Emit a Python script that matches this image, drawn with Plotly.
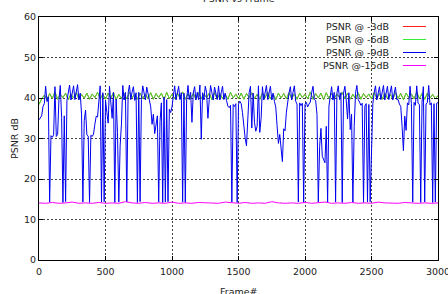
import plotly.graph_objects as go

# ---------------- data ----------------
step_blue = 10
psnr_9db = [
    34.6, 35.2, 35.6, 37.9, 38.6, 42.9, 39.1, 40.3, 14.3, 30.7, 30.3, 30.9, 42.8, 30.5, 31.0,
    39.6, 43.1, 35.2, 14.2, 35.6, 14.4, 39.4, 41.4, 43.2, 39.5, 41.5, 43.0, 39.6, 41.3, 43.3,
    39.5, 41.2, 36.0, 14.3, 34.4, 37.0, 30.9, 30.6, 14.2, 30.8, 30.5, 31.1, 33.5, 35.5, 35.3,
    39.6, 43.0, 14.3, 41.3, 14.4, 39.5, 36.5, 33.8, 42.9, 39.6, 35.0, 41.4, 14.2, 39.7, 31.5,
    14.3, 28.2, 33.6, 43.1, 39.5, 41.4, 14.3, 41.2, 43.2, 39.6, 41.5, 42.8, 39.4, 41.3, 14.2,
    41.4, 14.4, 39.6, 43.0, 41.2, 39.5, 42.7, 41.3, 39.5, 37.8, 33.5, 36.0, 31.2, 34.0, 35.6,
    14.3, 34.2, 38.8, 14.2, 40.2, 14.3, 39.6, 14.4, 37.2, 36.4, 37.8, 39.9, 43.0, 39.5, 41.4,
    42.9, 39.6, 41.3, 14.3, 41.2, 14.2, 39.5, 43.1, 39.6, 41.4, 34.0, 41.2, 42.8, 39.5, 41.4,
    39.6, 43.2, 29.8, 41.3, 39.5, 42.9, 41.4, 35.0, 39.6, 43.1, 41.3, 39.5, 42.7, 41.4, 39.6,
    43.0, 39.5, 41.3, 42.9, 39.6, 41.2, 39.4, 38.0, 37.6, 38.2, 14.3, 38.4, 37.9, 38.6, 14.2,
    38.5, 39.2, 38.6, 36.4, 33.0, 30.1, 28.2, 36.5, 41.3, 42.9, 32.6, 41.2, 34.0, 31.8, 33.0,
    43.0, 31.5, 35.0, 42.8, 39.5, 41.4, 43.1, 39.6, 41.3, 42.9, 39.5, 41.2, 39.2, 37.8, 33.2,
    28.8, 31.0, 26.9, 24.3, 32.4, 31.9, 36.5, 39.6, 41.3, 42.8, 39.5, 41.4, 43.0, 39.2, 38.5,
    14.3, 38.8, 38.1, 38.7, 14.2, 38.4, 38.9, 37.8, 38.5, 39.0, 41.3, 42.9, 39.6, 39.4, 36.0,
    14.3, 28.0, 32.5, 25.6, 24.6, 24.0, 33.0, 14.2, 38.0, 41.3, 42.8, 39.5, 41.4, 14.3, 41.2,
    43.0, 39.6, 41.3, 14.2, 41.2, 42.9, 39.5, 34.8, 41.3, 32.2, 36.0, 14.3, 33.0, 41.2, 43.1,
    39.6, 39.0, 38.2, 38.7, 14.2, 38.0, 38.6, 14.3, 38.4, 14.4, 30.0, 38.6, 41.3, 43.0, 39.5,
    41.4, 42.8, 39.6, 41.3, 43.1, 39.5, 41.2, 42.9, 39.6, 41.4, 43.0, 39.5, 41.3, 42.7, 39.6,
    39.6, 38.5, 37.9, 33.0, 27.0, 35.5, 32.0, 38.8, 38.3, 42.9, 38.6, 14.3, 38.9, 38.2, 43.0,
    38.7, 38.4, 14.2, 38.9, 42.8, 14.3, 38.5, 38.9, 43.1, 38.3, 38.8, 14.2, 38.6, 14.3, 38.7,
    38.9,
]

step_green = 20
psnr_6db = [
    38.4, 39.8, 40.7, 39.6, 41.1, 39.9, 41.5, 39.7, 40.9, 40.1,
    41.2, 39.6, 41.0, 40.0, 41.3, 39.8, 40.9, 39.9, 41.2, 39.7,
    41.0, 40.1, 41.4, 39.8, 40.9, 39.7, 41.2, 40.0, 41.3, 39.6,
    40.9, 39.9, 41.1, 39.8, 41.4, 40.1, 41.0, 39.7, 41.2, 39.9,
    41.0, 39.8, 41.3, 39.7, 41.1, 40.1, 41.2, 39.6, 41.4, 39.9,
    40.9, 39.8, 41.2, 40.0, 41.5, 39.7, 41.0, 39.9, 41.1, 39.7,
    41.3, 39.9, 41.0, 40.1, 41.2, 39.6, 41.3, 39.8, 41.1, 39.9,
    40.9, 39.7, 41.4, 40.0, 41.0, 39.8, 41.2, 39.7, 41.1, 40.1,
    41.3, 39.9, 40.9, 39.7, 41.2, 40.1, 41.4, 39.8, 41.0, 39.6,
    41.2, 40.0, 41.1, 39.8, 41.3, 39.9, 41.0, 39.7, 41.2, 40.1,
    40.9, 39.8, 41.5, 39.7, 41.1, 40.0, 41.2, 39.6, 41.3, 39.9,
    41.1, 39.9, 41.0, 40.1, 41.4, 39.8, 41.2, 39.7, 40.9, 39.9,
    41.3, 39.7, 41.1, 40.1, 41.0, 39.8, 41.4, 39.9, 41.1, 39.7,
    41.2, 40.0, 41.0, 39.8, 41.3, 39.9, 41.1, 39.6, 41.2, 40.1,
    41.0, 39.8, 41.4, 39.9, 41.1, 39.7, 41.2, 40.0, 40.9, 39.8,
    40.6,
]

# -3dB curve lies exactly under the -6dB curve in the picture
psnr_3db = list(psnr_6db)

step_mag = 50
psnr_15db = [
    14.1, 14.0, 14.2, 14.0, 14.1, 14.3, 14.0, 14.1, 14.0, 14.2,
    14.0, 14.1, 14.0, 14.4, 14.1, 14.0, 14.2, 14.0, 14.1, 14.0,
    14.3, 14.0, 14.1, 14.0, 14.2, 14.1, 14.0, 14.0, 14.3, 14.1,
    14.0, 14.2, 14.0, 14.1, 14.0, 14.4, 14.1, 14.0, 14.1, 14.0,
    14.2, 14.0, 14.1, 14.3, 14.0, 14.1, 14.0, 14.2, 14.0, 14.1,
    14.0, 14.3, 14.1, 14.0, 14.0, 14.2, 14.1, 14.0, 14.1, 14.0, 14.1,
]

series_names = ["PSNR @ -3dB", "PSNR @ -6dB", "PSNR @ -9dB", "PSNR @-15dB"]
series_colors = ["#ff2020", "#33ee33", "#0000f0", "#ff00ff"]
series_values = [psnr_3db, psnr_6db, psnr_9db, psnr_15db]
series_steps = [step_green, step_green, step_blue, step_mag]

x_ticks = [0, 500, 1000, 1500, 2000, 2500, 3000]
y_ticks = [0, 10, 20, 30, 40, 50, 60]

FONT = "DejaVu Sans"
FS = 9.5
W, H = 448, 294
L, R, T, B = 39, 10, 17, 34

fig = go.Figure()
for name, color, vals, st in zip(series_names, series_colors, series_values, series_steps):
    frames = [st * i for i in range(len(vals))]
    fig.add_trace(go.Scatter(x=frames, y=vals, mode="lines", name=name,
                             line=dict(color=color, width=1), showlegend=False))

axis_common = dict(showline=True, linecolor="#000000", linewidth=1, mirror="ticks",
                   ticks="inside", ticklen=4, tickcolor="#000000",
                   showgrid=True, gridcolor="#444444", gridwidth=0.7, griddash="2px,2px",
                   zeroline=False, ticklabeloverflow="allow", automargin=False,
                   tickfont=dict(family=FONT, size=FS, color="#222222"))

fig.update_xaxes(range=[0, 3000], tickvals=x_ticks, ticklabelstandoff=3, **axis_common)
fig.update_yaxes(range=[0, 60], tickvals=y_ticks, **axis_common)

ph = H - T - B
pw = W - L - R
annotations = [
    dict(text="PSNR vs Frame", x=0.5, y=1 + (T + 2) / ph, xref="paper", yref="paper",
         xanchor="center", yanchor="middle", showarrow=False,
         font=dict(family=FONT, size=FS, color="#222222")),
    dict(text="Frame#", x=0.5, y=-(31) / ph, xref="paper", yref="paper",
         xanchor="center", yanchor="middle", showarrow=False,
         font=dict(family=FONT, size=FS, color="#222222")),
    dict(text="PSNR dB", x=-(L - 14) / pw, y=1 - (139 - T) / ph, xref="paper", yref="paper",
         xanchor="center", yanchor="middle", showarrow=False, textangle=-90,
         font=dict(family=FONT, size=FS, color="#222222")),
]
shapes = []
row_px = [26.5, 39.5, 52.5, 65.5]
for name, color, ypx in zip(series_names, series_colors, row_px):
    yp = 1 - (ypx - T) / ph
    annotations.append(dict(text=name, x=(391 - L) / pw, y=yp, xref="paper", yref="paper",
                            xanchor="right", yanchor="middle", showarrow=False,
                            font=dict(family=FONT, size=FS, color="#222222")))
    shapes.append(dict(type="line", xref="paper", yref="paper",
                       x0=(403 - L) / pw, x1=(426 - L) / pw, y0=yp, y1=yp,
                       line=dict(color=color, width=1)))

fig.update_layout(width=W, height=H, margin=dict(l=L, r=R, t=T, b=B, pad=0, autoexpand=False),
                  paper_bgcolor="white", plot_bgcolor="white",
                  annotations=annotations, shapes=shapes, showlegend=False)

fig.write_html("out.html")
